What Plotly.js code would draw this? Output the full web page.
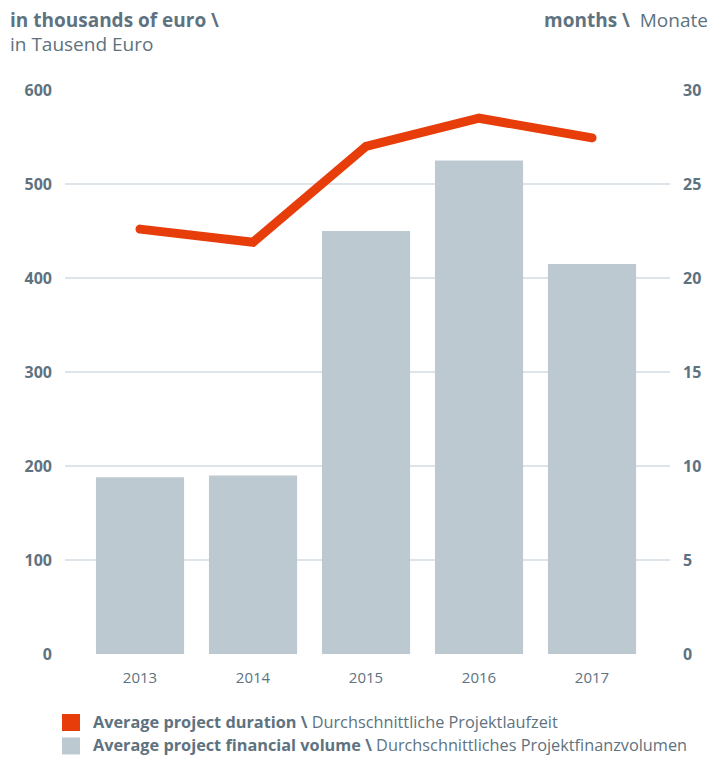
<!DOCTYPE html>
<html>
<head>
<meta charset="utf-8">
<script src="https://cdn.plot.ly/plotly-3.0.1.min.js"></script>
<style>html,body{margin:0;padding:0;background:#fff}#chart{width:710px;height:757px}</style>
</head>
<body>
<div id="chart"></div>
<script>
const years = ["2013", "2014", "2015", "2016", "2017"];
const volume = [188, 190, 450, 525, 415];
const duration = [22.6, 21.9, 27.0, 28.5, 27.45];
const leftTicks = [0, 100, 200, 300, 400, 500, 600];
const rightTicks = [0, 5, 10, 15, 20, 25, 30];

const txt = "#5e7280";
const barColor = "#bdc9d1";
const lineColor = "#e63d0a";
const fam = "Open Sans, sans-serif";

const traces = [
  {type: "bar", x: years, y: volume, marker: {color: barColor}, width: 0.78, yaxis: "y", hoverinfo: "skip", showlegend: false},
  {type: "scatter", mode: "lines", x: years, y: duration, yaxis: "y2", line: {color: lineColor, width: 9}, hoverinfo: "skip", showlegend: false}
];

const layout = {
  width: 710, height: 757,
  margin: {l: 65, r: 40, t: 90, b: 103},
  paper_bgcolor: "#fff", plot_bgcolor: "#fff",
  font: {family: fam, color: txt},
  xaxis: {type: "category", range: [-0.664, 4.69], showgrid: false, zeroline: false, showline: false,
          ticks: "", tickfont: {size: 15, color: txt}, ticklabelstandoff: 13},
  yaxis: {range: [0, 600], tickvals: leftTicks, showgrid: true, gridcolor: "#dde4ea", gridwidth: 1.5,
          zeroline: false, showline: false, ticks: "", tickfont: {size: 16, color: txt, weight: "bold"},
          ticklabelstandoff: 12},
  yaxis2: {range: [0, 30], tickvals: rightTicks, overlaying: "y", side: "right", showgrid: false,
           zeroline: false, showline: false, ticks: "", tickfont: {size: 16, color: txt, weight: "bold"},
           ticklabelstandoff: 12},
  shapes: [
    {type: "rect", xref: "paper", yref: "paper", x0: -0.0050, x1: 0.0248, y0: -0.1064, y1: -0.1365, fillcolor: lineColor, line: {width: 0}},
    {type: "rect", xref: "paper", yref: "paper", x0: -0.0050, x1: 0.0248, y0: -0.1480, y1: -0.1781, fillcolor: barColor, line: {width: 0}}
  ],
  annotations: [
    {xref: "paper", yref: "paper", x: -0.094, y: 1.124, xanchor: "left", yanchor: "middle", showarrow: false,
     text: "<b>in thousands of euro \\</b>", font: {size: 19, color: txt}},
    {xref: "paper", yref: "paper", x: -0.094, y: 1.082, xanchor: "left", yanchor: "middle", showarrow: false,
     text: "in Tausend Euro", font: {size: 19, color: txt}},
    {xref: "paper", yref: "paper", x: 1.066, y: 1.124, xanchor: "right", yanchor: "middle", showarrow: false,
     text: "<b>months \\</b>  Monate", font: {size: 19, color: txt}},
    {xref: "paper", yref: "paper", x: 0.043, y: -0.1206, xanchor: "left", yanchor: "middle", showarrow: false,
     text: "<b>Average project duration \\</b> Durchschnittliche Projektlaufzeit", font: {size: 16.3, color: txt}},
    {xref: "paper", yref: "paper", x: 0.043, y: -0.1620, xanchor: "left", yanchor: "middle", showarrow: false,
     text: "<b>Average project financial volume \\</b> Durchschnittliches Projektfinanzvolumen", font: {size: 16.3, color: txt}}
  ]
};

Plotly.newPlot("chart", traces, layout, {displayModeBar: false, staticPlot: true}).then(function () {
  document.querySelectorAll("#chart .scatterlayer path.js-line").forEach(function (p) {
    p.style.strokeLinecap = "round";
  });
});
</script>
</body>
</html>
